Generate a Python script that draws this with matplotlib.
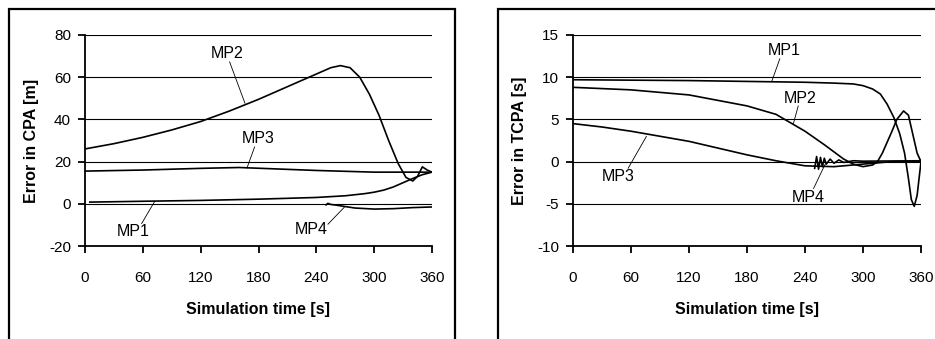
import matplotlib.pyplot as plt
from matplotlib.patches import Rectangle

plt.rcParams['font.family'] = ['Liberation Sans', 'DejaVu Sans']

# ---- left panel: error in CPA [m]
cpa_mp1_t = [5, 60, 120, 180, 240, 270, 290, 300, 310, 320, 330, 340, 350, 360]
cpa_mp1 = [0.8, 1.2, 1.6, 2.2, 3.0, 3.8, 4.8, 5.5, 6.5, 8.0, 10.0, 12.0, 13.8, 15.0]

cpa_mp2_t = [0, 30, 60, 90, 120, 150, 180, 210, 240, 255, 265, 275, 285, 295,
             305, 315, 325, 333, 340, 345, 350, 355, 360]
cpa_mp2 = [26, 28.5, 31.5, 35, 39, 44, 49.5, 55.5, 61.5, 64.5, 65.5, 64.5, 60, 52,
           42, 30, 19, 12.5, 10.8, 13, 17.5, 16, 15]

cpa_mp3_t = [0, 60, 120, 160, 200, 240, 300, 360]
cpa_mp3 = [15.5, 16.0, 16.8, 17.2, 16.5, 15.8, 15.0, 15.0]

cpa_mp4_t = [250, 252, 255, 260, 270, 280, 300, 320, 340, 360]
cpa_mp4 = [-0.5, 0.2, -0.3, -0.6, -1.3, -2.0, -2.5, -2.3, -1.8, -1.5]

# ---- right panel: error in TCPA [s]
tcpa_mp1_t = [0, 60, 120, 180, 240, 270, 290, 300, 310, 318, 325, 332, 338, 343,
              347, 350, 353, 356, 358, 360]
tcpa_mp1 = [9.7, 9.65, 9.6, 9.5, 9.4, 9.3, 9.2, 9.0, 8.6, 8.0, 6.8, 5.2, 3.3, 1.0,
            -2.0, -4.5, -5.3, -4.0, -2.0, 0.0]

tcpa_mp2_t = [0, 60, 120, 180, 210, 240, 260, 280, 290, 300, 310, 315, 320, 325,
              330, 335, 342, 347, 352, 356, 360]
tcpa_mp2 = [8.8, 8.5, 7.9, 6.6, 5.6, 3.6, 2.0, 0.3, -0.3, -0.6, -0.4, 0.0, 1.0, 2.3,
            3.6, 5.0, 6.0, 5.5, 3.0, 1.0, 0.0]

tcpa_mp3_t = [0, 30, 60, 90, 120, 150, 180, 210, 240, 270, 300, 330, 360]
tcpa_mp3 = [4.5, 4.1, 3.6, 3.0, 2.4, 1.6, 0.8, 0.1, -0.5, -0.6, -0.3, 0.0, 0.0]

tcpa_mp4_t = [250, 252, 254, 256, 258, 260, 262, 266, 270, 275, 280, 290, 300, 360]
tcpa_mp4 = [-0.8, 0.6, -0.9, 0.5, -0.6, 0.4, -0.3, 0.3, -0.2, 0.2, -0.1, 0.1, 0.05, 0.1]

x_ticks = [0, 60, 120, 180, 240, 300, 360]

fig = plt.figure(figsize=(9.35, 3.39), dpi=100)

# panel frames
fig.patches.append(Rectangle((9 / 935, -0.1), 446 / 935, 1.1 - 9 / 339,
                             transform=fig.transFigure, fill=False,
                             edgecolor='black', linewidth=1.6))
fig.patches.append(Rectangle((498 / 935, -0.1), 0.6, 1.1 - 9 / 339,
                             transform=fig.transFigure, fill=False,
                             edgecolor='black', linewidth=1.6))

ax1 = fig.add_axes([85 / 935, 1 - 246 / 339, 347 / 935, 211 / 339])
ax2 = fig.add_axes([573 / 935, 1 - 246 / 339, 348 / 935, 211 / 339])


def style(ax, ylim, yticks, ylabel):
    ax.set_xlim(0, 360)
    ax.set_ylim(*ylim)
    ax.set_xticks(x_ticks)
    ax.set_yticks(yticks)
    for y in yticks[1:]:
        ax.axhline(y, color='black', lw=0.8, zorder=1)
    ax.spines['top'].set_visible(False)
    ax.spines['right'].set_visible(False)
    ax.spines['left'].set_linewidth(1.3)
    ax.spines['bottom'].set_linewidth(1.3)
    ax.tick_params(direction='out', length=5, width=1.3, labelsize=11)
    ax.tick_params(axis='x', pad=13)
    ax.tick_params(axis='y', pad=5)
    ax.set_xlabel('Simulation time [s]', fontsize=11.5, fontweight='bold', labelpad=12)
    ax.set_ylabel(ylabel, fontsize=11.5, fontweight='bold', labelpad=7)


style(ax1, (-20, 80), [-20, 0, 20, 40, 60, 80], 'Error in CPA [m]')
style(ax2, (-10, 15), [-10, -5, 0, 5, 10, 15], 'Error in TCPA [s]')
ax1.set_yticklabels(['-20', '0', '20', '40', '60', '80'])
ax2.set_yticklabels(['-10', '-5', '0', '5', '10', '15'])

lw = 1.2
ax1.plot(cpa_mp1_t, cpa_mp1, color='black', lw=lw, zorder=3)
ax1.plot(cpa_mp2_t, cpa_mp2, color='black', lw=lw, zorder=3)
ax1.plot(cpa_mp3_t, cpa_mp3, color='black', lw=lw, zorder=3)
ax1.plot(cpa_mp4_t, cpa_mp4, color='black', lw=lw, zorder=3)

ax2.plot(tcpa_mp1_t, tcpa_mp1, color='black', lw=lw, zorder=3)
ax2.plot(tcpa_mp2_t, tcpa_mp2, color='black', lw=lw, zorder=3)
ax2.plot(tcpa_mp3_t, tcpa_mp3, color='black', lw=lw, zorder=3)
ax2.plot(tcpa_mp4_t, tcpa_mp4, color='black', lw=lw, zorder=3)

arrow = dict(arrowstyle='-', color='black', lw=0.6, shrinkA=0, shrinkB=0)


def label(ax, text, xy_text, xy_start, xy_end):
    ax.text(xy_text[0], xy_text[1], text, fontsize=11.5, ha='center', va='center')
    ax.annotate('', xy=xy_end, xytext=xy_start, arrowprops=arrow)


label(ax1, 'MP2', (147, 71.3), (150, 67.3), (166, 47.6))
label(ax1, 'MP3', (180, 31), (176, 27), (168, 16.9))
label(ax1, 'MP1', (50, -13), (58.7, -9.4), (72.5, 1.3))
label(ax1, 'MP4', (235, -12.2), (252, -9.7), (269.5, -1.4))

label(ax2, 'MP1', (218, 13.2), (214, 12.2), (205.6, 9.5))
label(ax2, 'MP2', (235, 7.5), (233, 6.6), (228, 4.5))
label(ax2, 'MP3', (46.6, -1.8), (57, -0.8), (76, 3.0))
label(ax2, 'MP4', (243.6, -4.2), (248.8, -3.2), (260.9, -0.3))

fig.savefig('out.png', dpi=100)
